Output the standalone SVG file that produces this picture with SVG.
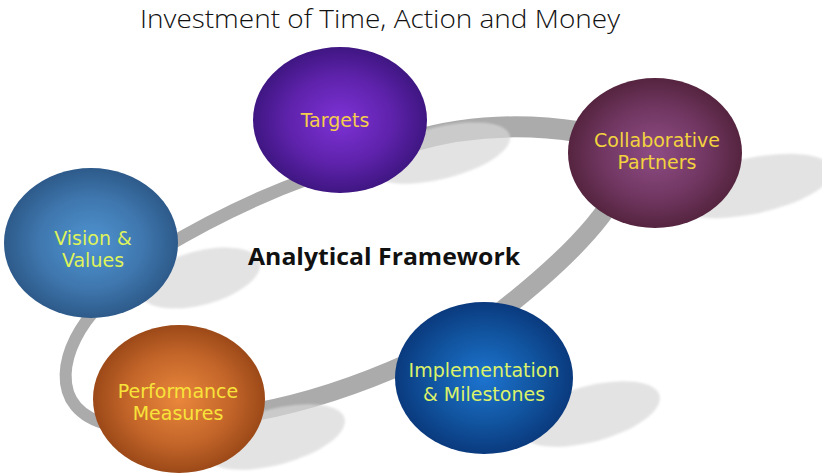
<svg xmlns="http://www.w3.org/2000/svg" width="822" height="476" viewBox="0 0 822 476">
<style>
.title{font-family:"Open Sans","Liberation Sans",sans-serif;font-weight:300;font-size:26px;fill:#111}
.center{font-family:"Open Sans","Liberation Sans",sans-serif;font-weight:700;font-size:24px;fill:#111}
.lbl{font-family:"DejaVu Sans","Liberation Sans",sans-serif;font-size:19px;text-anchor:middle}
.track{fill:none;stroke:#ababab;stroke-linecap:butt}
.shadow{fill:#d8d8d8;opacity:0.7;filter:url(#soft)}
</style>
<defs>
<filter id="soft" x="-20%" y="-40%" width="140%" height="180%"><feGaussianBlur stdDeviation="0.8"/></filter>
<radialGradient id="gTargets" cx="50%" cy="50%" r="50%"><stop offset="0" stop-color="#7e32d6"/><stop offset="0.6" stop-color="#5e22ab"/><stop offset="1" stop-color="#3f1682"/></radialGradient>
<radialGradient id="gVision" cx="50%" cy="50%" r="50%"><stop offset="0" stop-color="#4f94d2"/><stop offset="0.6" stop-color="#3f77ae"/><stop offset="1" stop-color="#2d5a8a"/></radialGradient>
<radialGradient id="gCollab" cx="50%" cy="50%" r="50%"><stop offset="0" stop-color="#8e4c84"/><stop offset="0.6" stop-color="#713762"/><stop offset="1" stop-color="#55243f"/></radialGradient>
<radialGradient id="gImpl" cx="50%" cy="50%" r="50%"><stop offset="0" stop-color="#1d74d0"/><stop offset="0.6" stop-color="#11549f"/><stop offset="1" stop-color="#0a3a7e"/></radialGradient>
<radialGradient id="gPerf" cx="50%" cy="50%" r="50%"><stop offset="0" stop-color="#ea873c"/><stop offset="0.6" stop-color="#c4662a"/><stop offset="1" stop-color="#9c4918"/></radialGradient>
</defs>
<rect width="822" height="476" fill="#ffffff"/>
<text class="title" x="140" y="28" textLength="480" lengthAdjust="spacingAndGlyphs">Investment of Time, Action and Money</text>
<g id="connectors">
<path class="track" stroke-width="13" d="M160 250 Q235 205 310 178"/>
<path class="track" stroke-width="21" d="M410 142 Q490 118 580 132"/>
<path class="track" stroke-width="19" d="M618 190 C600 225 560 265 500 312"/>
<path class="track" stroke-width="18" d="M255 412 Q330 398 410 362"/>
<path class="track" stroke-width="12" d="M100 305 C60 345 45 410 110 425"/>
</g>
<g id="shadows">
<ellipse class="shadow" cx="440" cy="153" rx="72" ry="26" transform="rotate(-14 440 153)"/>
<ellipse class="shadow" cx="200" cy="278" rx="62" ry="27" transform="rotate(-15 200 278)"/>
<ellipse class="shadow" cx="752" cy="186" rx="82" ry="28" transform="rotate(-12 752 186)"/>
<ellipse class="shadow" cx="590" cy="414" rx="72" ry="28" transform="rotate(-15 590 414)"/>
<ellipse class="shadow" cx="275" cy="437" rx="72" ry="28" transform="rotate(-15 275 437)"/>
</g>
<text class="center" x="248" y="265" textLength="272" lengthAdjust="spacingAndGlyphs">Analytical Framework</text>
<g id="node-targets">
<ellipse cx="340" cy="120" rx="87" ry="73" fill="url(#gTargets)"/>
<text class="lbl" x="335" y="127" fill="#f5cd4c">Targets</text>
</g>
<g id="node-vision">
<ellipse cx="91" cy="243" rx="87" ry="75" fill="url(#gVision)"/>
<text class="lbl" x="93" y="245" fill="#dff35a">Vision &amp;</text>
<text class="lbl" x="93" y="267" fill="#dff35a">Values</text>
</g>
<g id="node-collab">
<ellipse cx="655" cy="153" rx="87" ry="75" fill="url(#gCollab)"/>
<text class="lbl" x="657" y="147" fill="#f2d33e">Collaborative</text>
<text class="lbl" x="657" y="169" fill="#f2d33e">Partners</text>
</g>
<g id="node-impl">
<ellipse cx="484" cy="378" rx="89" ry="76" fill="url(#gImpl)"/>
<text class="lbl" x="484" y="377" fill="#dcf26a">Implementation</text>
<text class="lbl" x="484" y="401" fill="#dcf26a">&amp; Milestones</text>
</g>
<g id="node-perf">
<ellipse cx="179" cy="399" rx="86" ry="74" fill="url(#gPerf)"/>
<text class="lbl" x="178" y="398" fill="#f8e33a">Performance</text>
<text class="lbl" x="178" y="420" fill="#f8e33a">Measures</text>
</g>
</svg>
